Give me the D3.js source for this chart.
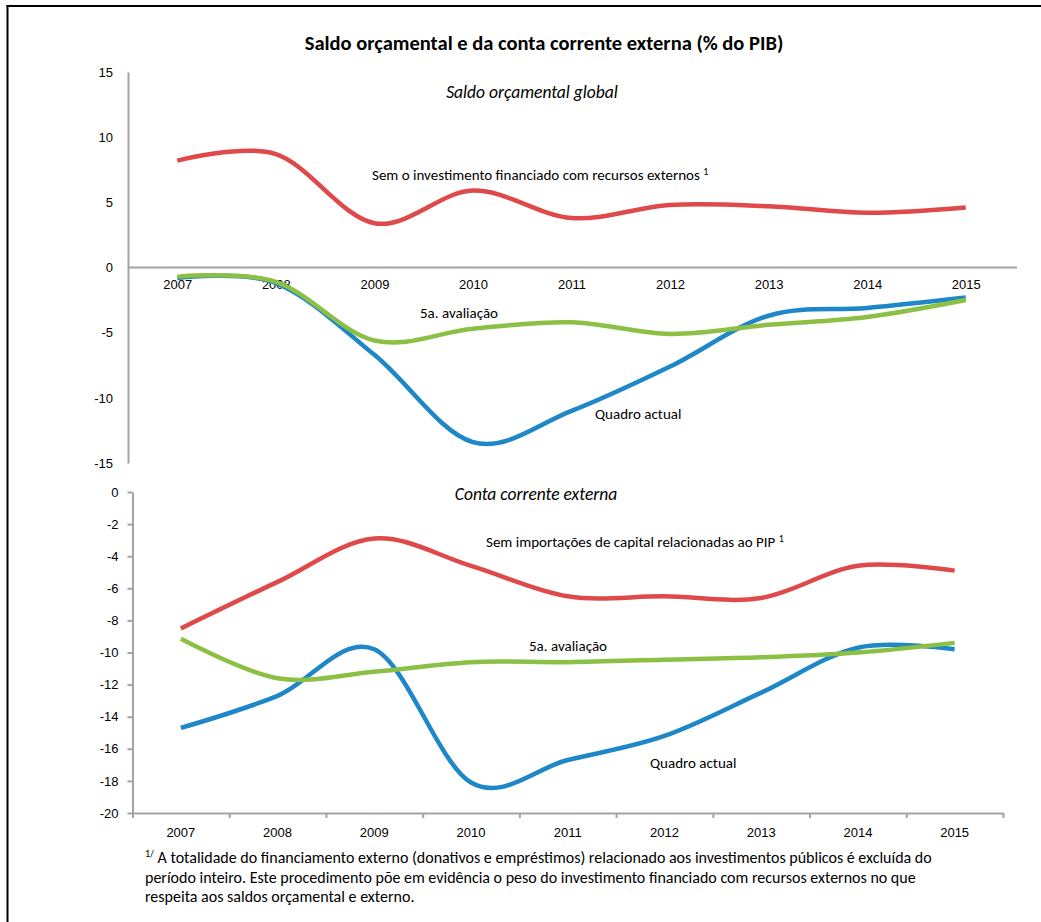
<!DOCTYPE html>
<html>
<head>
<meta charset="utf-8">
<script src="https://cdn.jsdelivr.net/npm/d3@7"></script>
<style>
  html, body { margin: 0; padding: 0; background: #fff; }
  svg { display: block; font-family: Carlito, Lato, "Open Sans", sans-serif; }
</style>
</head>
<body>
<svg id="chart" width="1041" height="922"></svg>
<script>
// Years on the horizontal axis
const years = ["2007", "2008", "2009", "2010", "2011", "2012", "2013", "2014", "2015"];

// Saldo orçamental global (% do PIB)
const budgetExclExternal = [8.2, 8.7, 3.4, 5.9, 3.8, 4.8, 4.7, 4.2, 4.6];
const budgetFifthReview  = [-0.7, -1.1, -5.6, -4.7, -4.2, -5.1, -4.4, -3.8, -2.5];
const budgetCurrent      = [-0.8, -1.2, -6.7, -13.4, -11.0, -7.6, -3.7, -3.1, -2.3];

// Conta corrente externa (% do PIB)
const currentExclPIP     = [-8.5, -5.6, -2.9, -4.6, -6.5, -6.5, -6.6, -4.6, -4.9];
const currentFifthReview = [-9.15, -11.6, -11.2, -10.6, -10.6, -10.45, -10.3, -10.0, -9.4];
const currentCurrent     = [-14.7, -12.7, -9.8, -18.1, -16.7, -15.2, -12.5, -9.7, -9.8];

// Axis ticks
const topTicks = [15, 10, 5, 0, -5, -10, -15];
const bottomTicks = [0, -2, -4, -6, -8, -10, -12, -14, -16, -18, -20];

const colors = { red: "#e0494a", blue: "#1d87c8", green: "#8cc045" };
const axisColor = "#a3a3a3";
const plainNumber = d => String(d);

const svg = d3.select("#chart");

// Frame lines (top and left)
svg.append("line").attr("x1", 6.5).attr("x2", 1041).attr("y1", 6).attr("y2", 6)
  .attr("stroke", "#000").attr("stroke-width", 2);
svg.append("line").attr("x1", 7.5).attr("x2", 7.5).attr("y1", 5).attr("y2", 922)
  .attr("stroke", "#000").attr("stroke-width", 2);

// Title
svg.append("text").attr("x", 544).attr("y", 50).attr("text-anchor", "middle")
  .attr("font-size", 20.5).attr("font-weight", "bold")
  .text("Saldo orçamental e da conta corrente externa (% do PIB)");

const smooth = d3.curveCardinal.tension(0);

// ---------- Upper panel: saldo orçamental ----------
const xTop = d3.scalePoint().domain(years).range([128, 1015]).padding(0.5);
const yTop = d3.scaleLinear().domain([-15, 15]).range([463, 72]);

const gTop = svg.append("g");
gTop.append("g")
  .attr("transform", "translate(128,0)")
  .call(d3.axisLeft(yTop).tickValues(topTicks).tickSize(0).tickPadding(15).tickFormat(plainNumber))
  .call(g => g.select(".domain").attr("stroke", axisColor).attr("stroke-width", 2))
  .call(g => g.selectAll("text").attr("font-size", 13).attr("fill", "#000").attr("font-family", null));

gTop.append("g")
  .attr("transform", `translate(0,${yTop(0)})`)
  .call(d3.axisBottom(xTop).tickSize(0).tickPadding(12))
  .call(g => g.select(".domain").attr("stroke", axisColor).attr("stroke-width", 2)
    .attr("d", "M128,0H1017"))
  .call(g => g.selectAll("text").attr("font-size", 13).attr("fill", "#000").attr("font-family", null));

const lineTop = d3.line().x((d, i) => xTop(years[i])).y(d => yTop(d)).curve(smooth);
[[budgetExclExternal, colors.red], [budgetCurrent, colors.blue], [budgetFifthReview, colors.green]]
  .forEach(([vals, c]) => {
    gTop.append("path").datum(vals).attr("d", lineTop)
      .attr("fill", "none").attr("stroke", c).attr("stroke-width", 4.5);
  });

gTop.append("text").attr("x", 532).attr("y", 98).attr("text-anchor", "middle")
  .attr("font-size", 17.5).attr("font-style", "italic").text("Saldo orçamental global");
const lblTop = gTop.append("text").attr("x", 372).attr("y", 180).attr("font-size", 15);
lblTop.append("tspan").text("Sem o investimento financiado com recursos  externos ");
lblTop.append("tspan").attr("dy", -5).attr("font-size", 10).text("1");
gTop.append("text").attr("x", 420).attr("y", 318).attr("font-size", 15).text("5a. avaliação");
gTop.append("text").attr("x", 595).attr("y", 419).attr("font-size", 15).text("Quadro actual");

// ---------- Lower panel: conta corrente externa ----------
const xBot = d3.scaleBand().domain(years).range([132.5, 1003]);
const yBot = d3.scaleLinear().domain([-20, 0]).range([813, 492]);

const gBot = svg.append("g");
gBot.append("g")
  .attr("transform", "translate(132.5,0)")
  .call(d3.axisLeft(yBot).tickValues(bottomTicks).tickSizeInner(5).tickSizeOuter(0).tickPadding(9).tickFormat(plainNumber))
  .call(g => g.select(".domain").attr("stroke", axisColor).attr("stroke-width", 2))
  .call(g => g.selectAll(".tick line").attr("stroke", axisColor).attr("stroke-width", 2))
  .call(g => g.selectAll("text").attr("font-size", 13).attr("fill", "#000").attr("font-family", null));

// Bottom axis: tick marks fall on the category boundaries
const xEdges = d3.scaleLinear().domain([0, years.length]).range([132.5, 1003]);
const gx = gBot.append("g").attr("transform", `translate(0,${yBot(-20)})`);
gx.call(d3.axisBottom(xEdges).tickValues(d3.range(0, years.length + 1)).tickSizeInner(5).tickSizeOuter(0).tickFormat(""))
  .call(g => g.select(".domain").attr("stroke", axisColor).attr("stroke-width", 2))
  .call(g => g.selectAll(".tick line").attr("stroke", axisColor).attr("stroke-width", 2));
gx.selectAll("text.yr").data(years).join("text").attr("class", "yr")
  .attr("x", d => xBot(d) + xBot.bandwidth() / 2).attr("y", 24)
  .attr("text-anchor", "middle").attr("font-size", 13).attr("fill", "#000").attr("font-family", null)
  .text(d => d);

const lineBot = d3.line().x((d, i) => xBot(years[i]) + xBot.bandwidth() / 2).y(d => yBot(d)).curve(smooth);
[[currentExclPIP, colors.red], [currentCurrent, colors.blue], [currentFifthReview, colors.green]]
  .forEach(([vals, c]) => {
    gBot.append("path").datum(vals).attr("d", lineBot)
      .attr("fill", "none").attr("stroke", c).attr("stroke-width", 4.5);
  });

gBot.append("text").attr("x", 536).attr("y", 500).attr("text-anchor", "middle")
  .attr("font-size", 17.5).attr("font-style", "italic").text("Conta corrente externa");
const lblBot = gBot.append("text").attr("x", 486).attr("y", 547).attr("font-size", 15);
lblBot.append("tspan").text("Sem importações de capital relacionadas ao PIP ");
lblBot.append("tspan").attr("dy", -5).attr("font-size", 10).text("1");
gBot.append("text").attr("x", 529).attr("y", 651).attr("font-size", 15).text("5a. avaliação");
gBot.append("text").attr("x", 650).attr("y", 768).attr("font-size", 15).text("Quadro actual");

// ---------- Footnote ----------
const note = svg.append("g").attr("font-size", 16);
const n1 = note.append("text").attr("x", 145).attr("y", 863);
n1.append("tspan").attr("font-size", 10).attr("dy", -6).text("1/");
n1.append("tspan").attr("dy", 6).text(" A totalidade do financiamento externo (donativos e empréstimos) relacionado aos investimentos públicos é excluída do");
note.append("text").attr("x", 145).attr("y", 883)
  .text("período inteiro. Este procedimento põe em evidência o peso do investimento financiado com recursos externos no que");
note.append("text").attr("x", 145).attr("y", 902)
  .text("respeita aos saldos orçamental e externo.");
</script>
</body>
</html>
